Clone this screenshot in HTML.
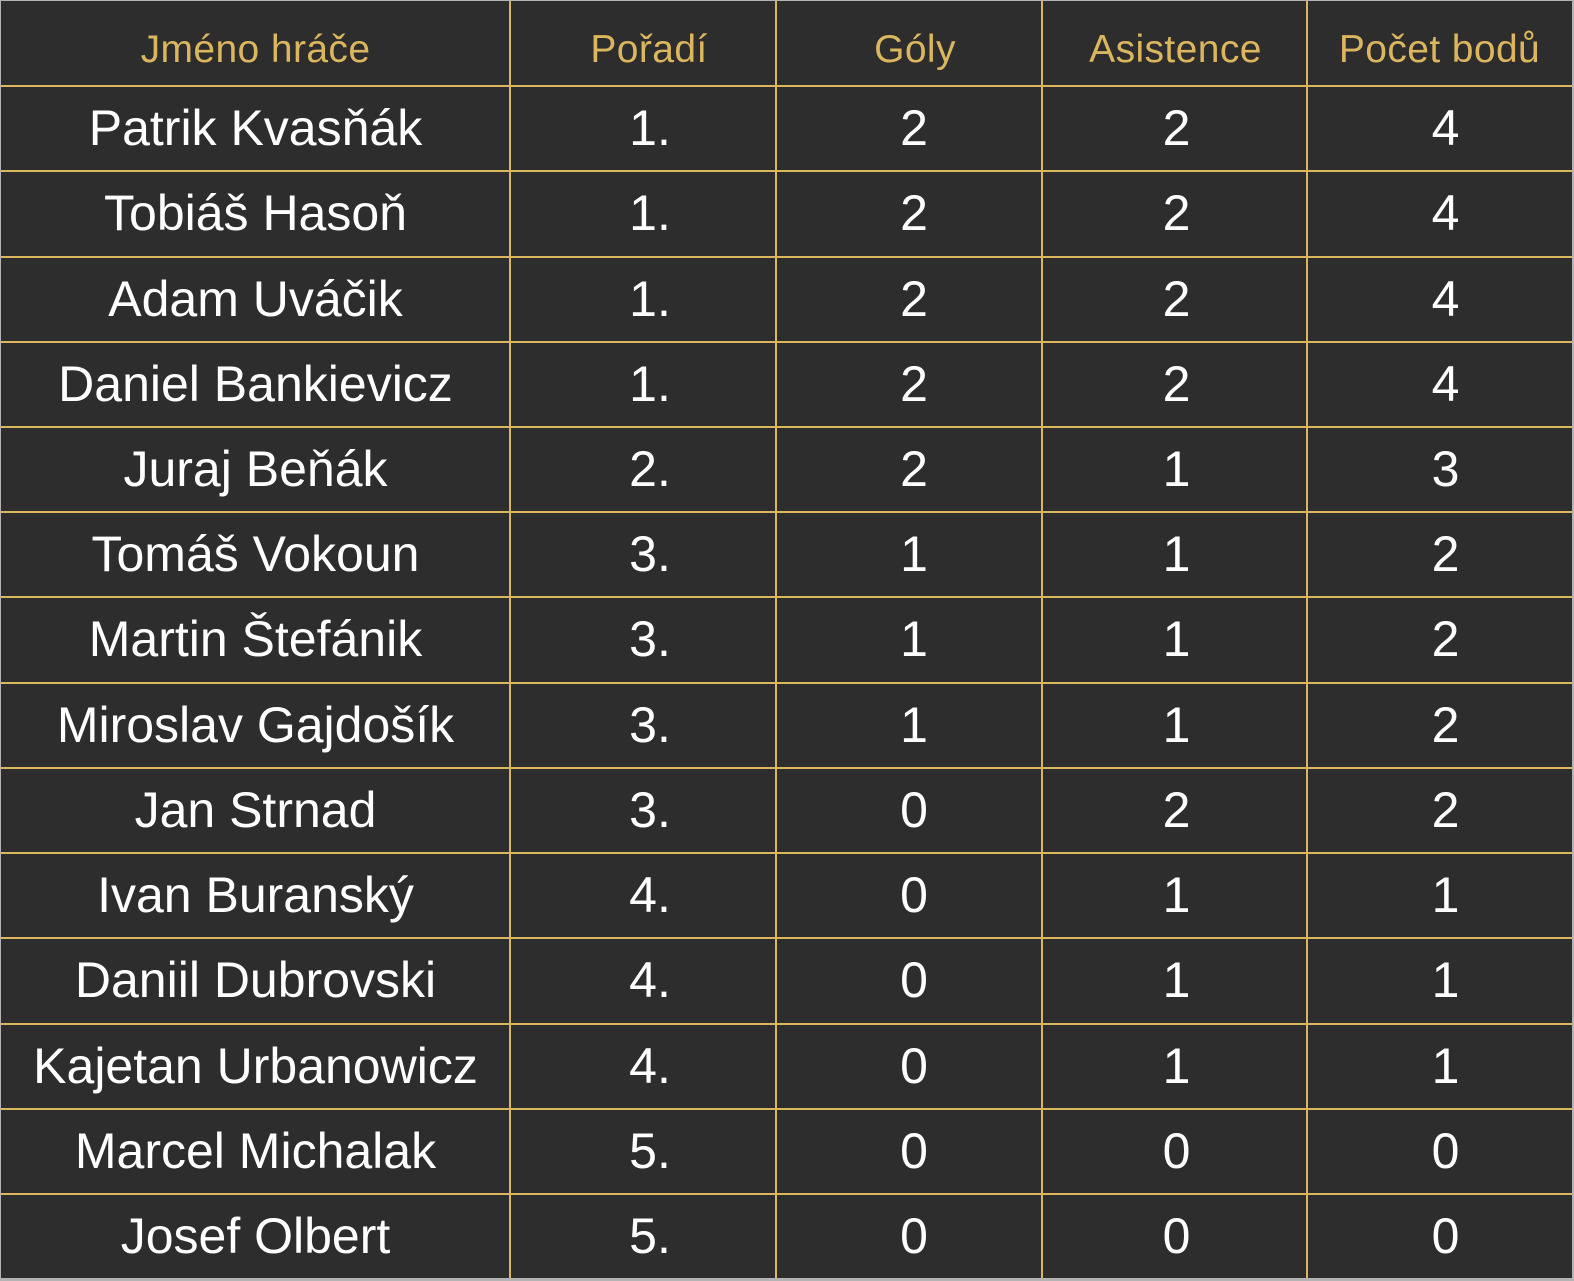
<!DOCTYPE html>
<html>
<head>
<meta charset="utf-8">
<style>
html,body{margin:0;padding:0;}
body{width:1574px;height:1281px;background:#b4b4b4;position:relative;overflow:hidden;font-family:"Liberation Sans","DejaVu Sans",sans-serif;}
#bg{position:absolute;left:1px;top:1px;width:1571px;height:1277px;background:#2d2d2d;}
.row{position:absolute;left:1px;width:1571px;height:85px;}
.c{position:absolute;top:0;height:85px;line-height:85px;text-align:center;color:#fff;font-size:50px;white-space:nowrap;}
.h .c{color:#dcb65e;font-size:39px;top:6px;letter-spacing:0.4px;}
.c1{left:0;width:509px;}
.c2{left:516px;width:266px;}
.c3{left:780px;width:266px;}
.c4{left:1043px;width:265px;}
.c5{left:1312px;width:265px;}
.h .c2{left:515px;}
.h .c3{left:781px;}
.h .c4{left:1042px;}
.h .c5{left:1306px;}
.hl{position:absolute;left:1px;width:1571px;height:2px;background:#dcb65e;}
.vl{position:absolute;top:1px;width:2px;height:1277px;background:#dcb65e;}
</style>
</head>
<body>
<div id="bg"></div>

<div class="row h" style="top:1px;">
<div class="c c1">Jméno hráče</div><div class="c c2">Pořadí</div><div class="c c3">Góly</div><div class="c c4">Asistence</div><div class="c c5">Počet bodů</div>
</div>

<div class="row" style="top:86px;"><div class="c c1">Patrik Kvasňák</div><div class="c c2">1.</div><div class="c c3">2</div><div class="c c4">2</div><div class="c c5">4</div></div>
<div class="row" style="top:171.2px;"><div class="c c1">Tobiáš Hasoň</div><div class="c c2">1.</div><div class="c c3">2</div><div class="c c4">2</div><div class="c c5">4</div></div>
<div class="row" style="top:256.5px;"><div class="c c1">Adam Uváčik</div><div class="c c2">1.</div><div class="c c3">2</div><div class="c c4">2</div><div class="c c5">4</div></div>
<div class="row" style="top:341.7px;"><div class="c c1">Daniel Bankievicz</div><div class="c c2">1.</div><div class="c c3">2</div><div class="c c4">2</div><div class="c c5">4</div></div>
<div class="row" style="top:426.9px;"><div class="c c1">Juraj Beňák</div><div class="c c2">2.</div><div class="c c3">2</div><div class="c c4">1</div><div class="c c5">3</div></div>
<div class="row" style="top:512.2px;"><div class="c c1">Tomáš Vokoun</div><div class="c c2">3.</div><div class="c c3">1</div><div class="c c4">1</div><div class="c c5">2</div></div>
<div class="row" style="top:597.4px;"><div class="c c1">Martin Štefánik</div><div class="c c2">3.</div><div class="c c3">1</div><div class="c c4">1</div><div class="c c5">2</div></div>
<div class="row" style="top:682.6px;"><div class="c c1">Miroslav Gajdošík</div><div class="c c2">3.</div><div class="c c3">1</div><div class="c c4">1</div><div class="c c5">2</div></div>
<div class="row" style="top:767.8px;"><div class="c c1">Jan Strnad</div><div class="c c2">3.</div><div class="c c3">0</div><div class="c c4">2</div><div class="c c5">2</div></div>
<div class="row" style="top:853.1px;"><div class="c c1">Ivan Buranský</div><div class="c c2">4.</div><div class="c c3">0</div><div class="c c4">1</div><div class="c c5">1</div></div>
<div class="row" style="top:938.3px;"><div class="c c1">Daniil Dubrovski</div><div class="c c2">4.</div><div class="c c3">0</div><div class="c c4">1</div><div class="c c5">1</div></div>
<div class="row" style="top:1023.5px;"><div class="c c1">Kajetan Urbanowicz</div><div class="c c2">4.</div><div class="c c3">0</div><div class="c c4">1</div><div class="c c5">1</div></div>
<div class="row" style="top:1108.8px;"><div class="c c1">Marcel Michalak</div><div class="c c2">5.</div><div class="c c3">0</div><div class="c c4">0</div><div class="c c5">0</div></div>
<div class="row" style="top:1194px;"><div class="c c1">Josef Olbert</div><div class="c c2">5.</div><div class="c c3">0</div><div class="c c4">0</div><div class="c c5">0</div></div>

<div class="hl" style="top:85px;"></div>
<div class="hl" style="top:170.2px;"></div>
<div class="hl" style="top:255.5px;"></div>
<div class="hl" style="top:340.7px;"></div>
<div class="hl" style="top:425.9px;"></div>
<div class="hl" style="top:511.2px;"></div>
<div class="hl" style="top:596.4px;"></div>
<div class="hl" style="top:681.6px;"></div>
<div class="hl" style="top:766.8px;"></div>
<div class="hl" style="top:852.1px;"></div>
<div class="hl" style="top:937.3px;"></div>
<div class="hl" style="top:1022.5px;"></div>
<div class="hl" style="top:1107.8px;"></div>
<div class="hl" style="top:1193px;"></div>

<div class="vl" style="left:509px;"></div>
<div class="vl" style="left:775px;"></div>
<div class="vl" style="left:1041px;"></div>
<div class="vl" style="left:1306px;"></div>
</body>
</html>
